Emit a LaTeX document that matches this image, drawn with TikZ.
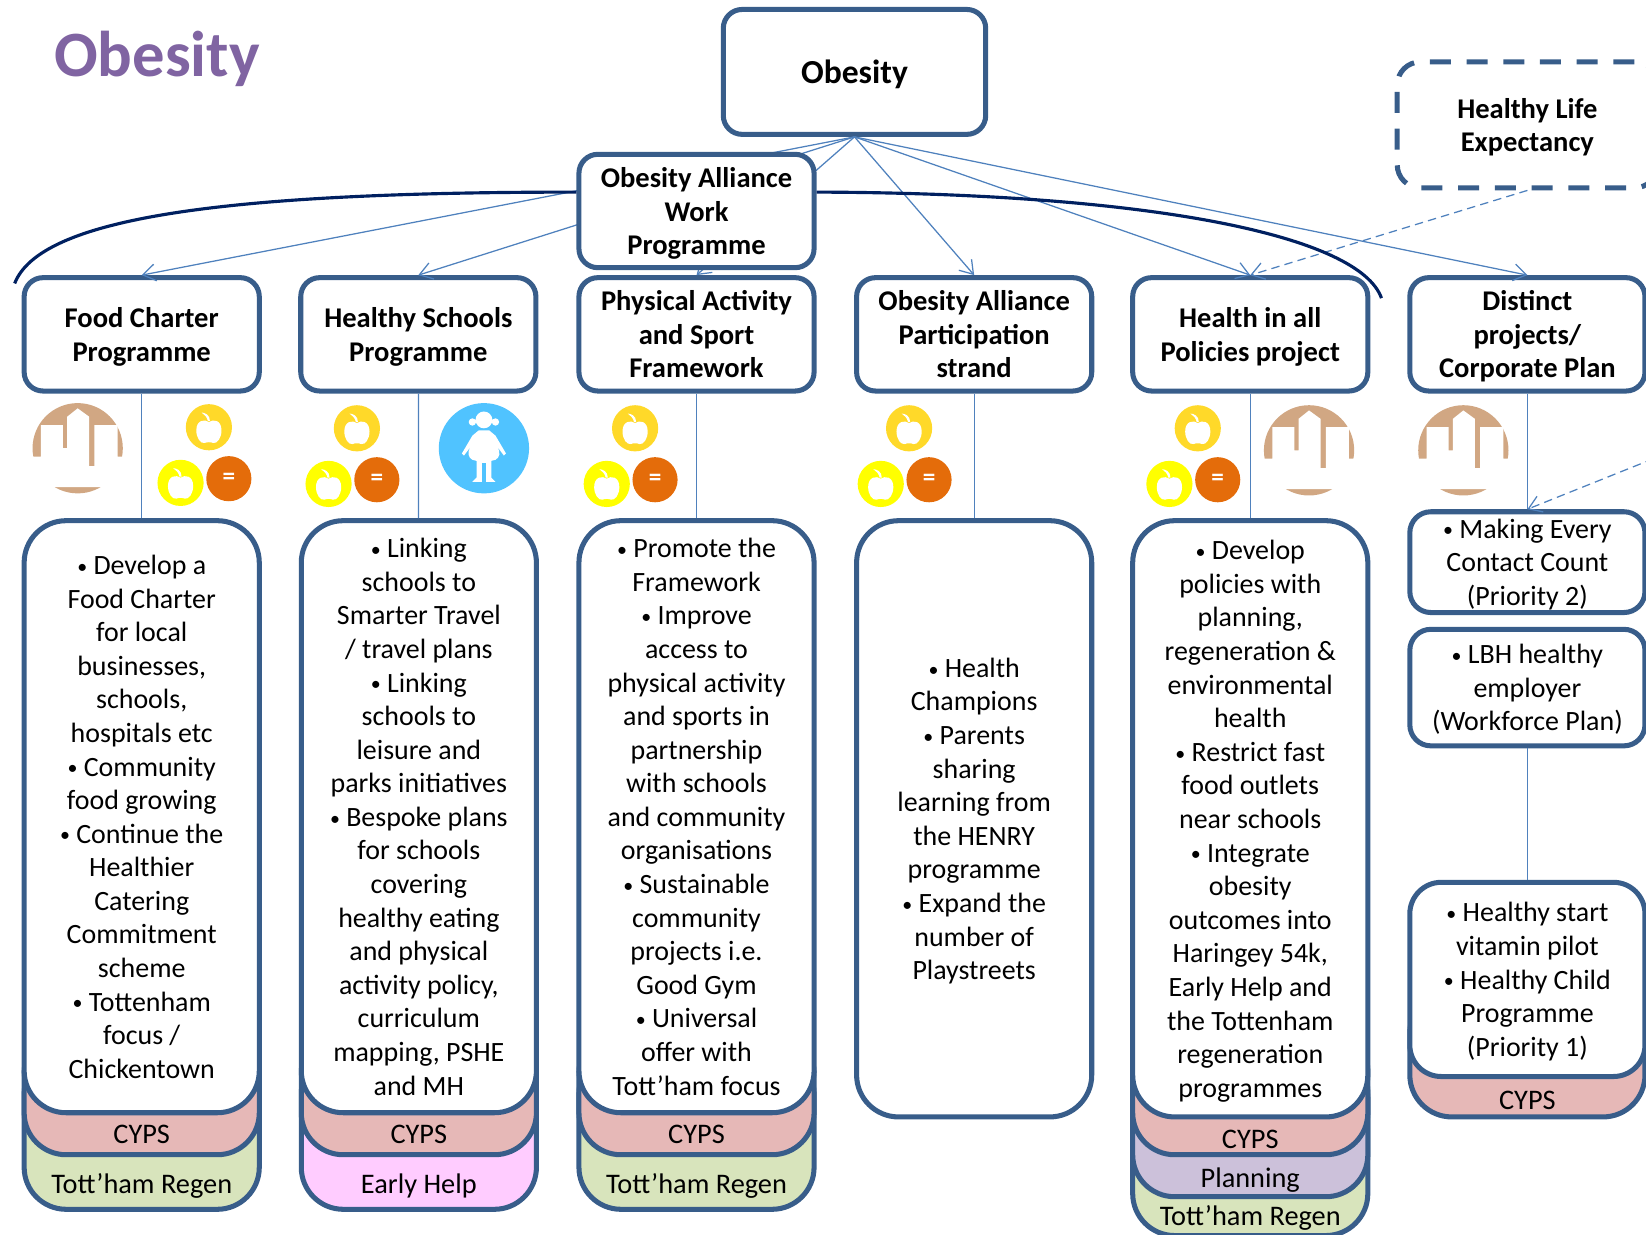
\documentclass[tikz,border=0pt]{standalone}
\usepackage{fontspec}
\setmainfont{Carlito}
\usepackage{tikz}
\usetikzlibrary{shapes, arrows.meta}
\definecolor{borderblue}{RGB}{56,93,138}
\definecolor{linkblue}{RGB}{79,129,189}
\definecolor{curvenavy}{RGB}{0,32,96}
\definecolor{titlepurple}{RGB}{128,100,162}
\definecolor{cypspink}{RGB}{230,184,183}
\definecolor{regengreen}{RGB}{216,228,188}
\definecolor{helppink}{RGB}{255,204,255}
\definecolor{planlilac}{RGB}{204,193,218}
\definecolor{applegold}{RGB}{255,217,41}
\definecolor{appleyellow}{RGB}{255,255,0}
\definecolor{equalorange}{RGB}{228,108,10}
\definecolor{skytan}{RGB}{209,167,131}
\definecolor{girlblue}{RGB}{80,195,255}
\newcommand{\blt}{{\fontsize{9.5}{16}\selectfont\raisebox{0.6pt}{•}}}
\tikzstyle{headbox} = [rectangle, rounded corners=9pt, minimum width=112pt, minimum height=54pt, align=center, draw=borderblue, line width=2.4pt, fill=white, text depth=0pt, font=\fontsize{13.6}{16}\selectfont\bfseries]
\tikzstyle{dashbox} = [headbox, dash pattern=on 10pt off 7.5pt, minimum width=124pt, minimum height=60pt, rounded corners=11pt]
\tikzstyle{bodybox} = [rectangle, rounded corners=20pt, minimum width=112pt, align=center, draw=borderblue, line width=2.4pt, fill=white, text depth=0pt, font=\fontsize{13.3}{16}\selectfont]
\tikzstyle{smallbox} = [bodybox, rounded corners=10pt]
\tikzstyle{underbox} = [rectangle, rounded corners=20pt, minimum width=112pt, draw=borderblue, line width=2.4pt]
\tikzstyle{tagtext} = [font=\fontsize{13.5}{16}\selectfont, inner sep=0pt]
\tikzstyle{arrow} = [draw=linkblue, line width=0.6pt, -{Straight Barb[length=6pt,width=8pt]}]
\tikzstyle{dasharrow} = [arrow, dash pattern=on 4pt off 2.5pt]
\tikzstyle{link} = [draw=linkblue, line width=0.6pt]
\tikzstyle{curve} = [draw=curvenavy, line width=1.5pt]
\tikzset{
  apples/.pic={
    \node (-gold) [circle, fill=applegold, minimum size=22pt, inner sep=0pt] at (0,0) {};
    \node (-yellow) [circle, fill=appleyellow, minimum size=22pt, inner sep=0pt] at (-27,53) {};
    \node (-equal) [circle, fill=equalorange, minimum size=21.5pt, inner sep=0pt, text=white, font=\fontsize{12}{12}\selectfont\bfseries] at (19,49) {=};
    \foreach \ax/\ay in {0/0, -27/53} {
      \fill [white, shift={(\ax,\ay)}] (0,-5) .. controls (-4,-8) and (-12,-7) .. (-12,3) .. controls (-12,10) and (-8,16) .. (-4,15) .. controls (-2,14) and (2,14) .. (4,15) .. controls (8,16) and (12,10) .. (12,3) .. controls (12,-7) and (4,-8) .. (0,-5) -- cycle;
      \fill [white, shift={(\ax,\ay)}] (-1,-6) .. controls (-2,-10) and (-4,-12) .. (-7,-14) .. controls (-4,-14) and (1,-12) .. (1,-6) -- cycle;
    }
  },
  skyline/.pic={
    \fill [skytan] (0,0) circle (43);
    \fill [white] (-44,8) -- (-35,8) -- (-35,-22) -- (-14,-22) -- (-14,0) -- (-10,0) -- (-10,-30) -- (0,-38) -- (11,-30) -- (11,17) -- (16,17) -- (16,-22) -- (38,-22) -- (38,8) -- (45,8) -- (45,37) -- (-45,37) -- cycle;
  },
  girl/.pic={
    \fill [girlblue] (0,0) circle (43);
    \fill [white] (0,-27) circle (8) (-11,-25) circle (3.5) (11,-25) circle (3.5);
    \fill [white] (-5,-17) -- (-11,-12) -- (-21,5) -- (-19,7) -- (-13,-1) .. controls (-16,4) and (-15,9) .. (-11,11) -- (-7,12) -- (-7,28) -- (-11,32) -- (-2,32) -- (-2,14) -- (2,14) -- (2,32) -- (11,32) -- (7,28) -- (7,12) -- (11,11) .. controls (15,9) and (16,4) .. (13,-1) -- (19,7) -- (21,5) -- (11,-12) -- (5,-17) -- cycle;
  }
}
\begin{document}
\begin{tikzpicture}[x=0.5pt, y=-0.5pt]
\clip (0,0) rectangle (1568,1176);

\node (page_title) [text=titlepurple, font=\fontsize{30.8}{32}\selectfont\bfseries, inner sep=0pt] at (149.5,56) {Obesity};
\node (obesity) [headbox, minimum width=125pt, minimum height=59.5pt, font=\fontsize{16}{16}\selectfont\bfseries] at (814,68.5) {Obesity};
\node (healthy_life) [dashbox] at (1455,119) {Healthy Life\\Expectancy};

% programme boxes
\node (food) [headbox] at (135,318.5) {Food Charter\\Programme};
\node (schools) [headbox] at (398.5,318.5) {Healthy Schools\\Programme};
\node (sport) [headbox] at (663.5,318.5) {Physical Activity\\and Sport\\Framework};
\node (strand) [headbox] at (928,318.5) {Obesity Alliance\\Participation\\strand};
\node (policies) [headbox] at (1191,318.5) {Health in all\\Policies project};
\node (distinct) [headbox] at (1455,318.5) {Distinct\\projects/\\Corporate Plan};

% coloured layers under the text boxes
\node (food_regen) [underbox, fill=regengreen, minimum height=75pt] at (135,1077) {};
\node (food_cyps) [underbox, fill=cypspink, minimum height=59pt] at (135,1041) {};
\node (schools_help) [underbox, fill=helppink, minimum height=75pt] at (399,1077) {};
\node (schools_cyps) [underbox, fill=cypspink, minimum height=59pt] at (399,1041) {};
\node (sport_regen) [underbox, fill=regengreen, minimum height=75pt] at (663.5,1077) {};
\node (sport_cyps) [underbox, fill=cypspink, minimum height=59pt] at (663.5,1041) {};
\node (policies_regen) [underbox, fill=regengreen, minimum height=85pt] at (1191,1092) {};
\node (policies_plan) [underbox, fill=planlilac, minimum height=70pt] at (1191,1070) {};
\node (policies_cyps) [underbox, fill=cypspink, minimum height=60pt] at (1191,1040) {};
\node (vitamin_cyps) [underbox, fill=cypspink, minimum height=60pt] at (1455,1004) {};

% text boxes
\node (food_text) [bodybox, minimum height=282pt] at (135,778) {\blt{} Develop a\\Food Charter\\for local\\businesses,\\schools,\\hospitals etc\\\blt{} Community\\food growing\\\blt{} Continue the\\Healthier\\Catering\\Commitment\\scheme\\\blt{} Tottenham\\focus /\\Chickentown};
\node (schools_text) [bodybox, minimum height=282pt] at (399,778) {\blt{} Linking\\schools to\\Smarter Travel\\/ travel plans\\\blt{} Linking\\schools to\\leisure and\\parks initiatives\\\blt{} Bespoke plans\\for schools\\covering\\healthy eating\\and physical\\activity policy,\\curriculum\\mapping, PSHE\\and MH};
\node (sport_text) [bodybox, minimum height=282pt] at (663.5,778) {\blt{} Promote the\\Framework\\\blt{} Improve\\access to\\physical activity\\and sports in\\partnership\\with schools\\and community\\organisations\\\blt{} Sustainable\\community\\projects i.e.\\Good Gym\\\blt{} Universal\\offer with\\Tott’ham focus};
\node (strand_text) [bodybox, minimum height=284pt] at (928,780) {\blt{} Health\\Champions\\\blt{} Parents\\sharing\\learning from\\the HENRY\\programme\\\blt{} Expand the\\number of\\Playstreets};
\node (policies_text) [bodybox, minimum height=284pt] at (1191,780) {\blt{} Develop\\policies with\\planning,\\regeneration \&\\environmental\\health\\\blt{} Restrict fast\\food outlets\\near schools\\\blt{} Integrate\\obesity\\outcomes into\\Haringey 54k,\\Early Help and\\the Tottenham\\regeneration\\programmes};
\node (contact_text) [smallbox, minimum height=48pt] at (1455,535.5) {\blt{} Making Every\\Contact Count\\(Priority 2)};
\node (employer_text) [smallbox, minimum height=55.5pt] at (1455,655) {\blt{} LBH healthy\\employer\\(Workforce Plan)};
\node (vitamin_text) [bodybox, rounded corners=15pt, minimum height=92.5pt] at (1455,933) {\blt{} Healthy start\\vitamin pilot\\\blt{} Healthy Child\\Programme\\(Priority 1)};

% labels of the layers
\node (food_cyps_tag) [tagtext] at (135,1081) {CYPS};
\node (food_regen_tag) [tagtext] at (135,1130) {Tott’ham Regen};
\node (schools_cyps_tag) [tagtext] at (399,1081) {CYPS};
\node (schools_help_tag) [tagtext] at (399,1130) {Early Help};
\node (sport_cyps_tag) [tagtext] at (663.5,1081) {CYPS};
\node (sport_regen_tag) [tagtext] at (663.5,1130) {Tott’ham Regen};
\node (policies_cyps_tag) [tagtext] at (1191,1085) {CYPS};
\node (policies_plan_tag) [tagtext] at (1191,1124) {Planning};
\node (policies_regen_tag) [tagtext] at (1191,1160) {Tott’ham Regen};
\node (vitamin_cyps_tag) [tagtext] at (1455,1048) {CYPS};

\coordinate (brace_left) at (14,270);
\coordinate (brace_right) at (1316,284);
\coordinate (offpage) at (1575,437);

\draw [link] (food) -- (food_text);
\draw [link] (schools) -- (schools_text);
\draw [link] (sport) -- (sport_text);
\draw [link] (strand) -- (strand_text);
\draw [link] (policies) -- (policies_text);
\draw [link] (distinct) -- (contact_text);
\draw [link] (employer_text) -- (vitamin_text);

\draw [arrow] (obesity.south) -- (food.north);
\draw [arrow] (obesity.south) -- (schools.north);
\draw [arrow] (obesity.south) -- (sport.north);
\draw [arrow] (obesity.south) -- (strand.north);
\draw [arrow] (obesity.south) -- (policies.north);
\draw [arrow] (obesity.south) -- (distinct.north);
\draw [dasharrow] (healthy_life.south) -- (policies.north);
\draw [dasharrow] (offpage) -- (contact_text.north);

% work programme sits on top of the lines
\node (work) [headbox] at (663.5,201) {Obesity Alliance\\Work\\Programme};
\draw [curve] ([yshift=9pt]work.west) .. controls (210,183) and (38,208) .. (brace_left);
\draw [curve] ([yshift=9pt]work.east) .. controls (1100,184) and (1295,225) .. (brace_right);

\pic (food_apples) at (199,407) {apples};
\pic (schools_apples) at (340,408) {apples};
\pic (sport_apples) at (605,408) {apples};
\pic (strand_apples) at (866,408) {apples};
\pic (policies_apples) at (1141,408) {apples};
\pic (food_sky) at (74,427) {skyline};
\pic (policies_sky) at (1247,429) {skyline};
\pic (distinct_sky) at (1394,429) {skyline};
\pic (schools_girl) at (461,427) {girl};

\end{tikzpicture}
\end{document}
